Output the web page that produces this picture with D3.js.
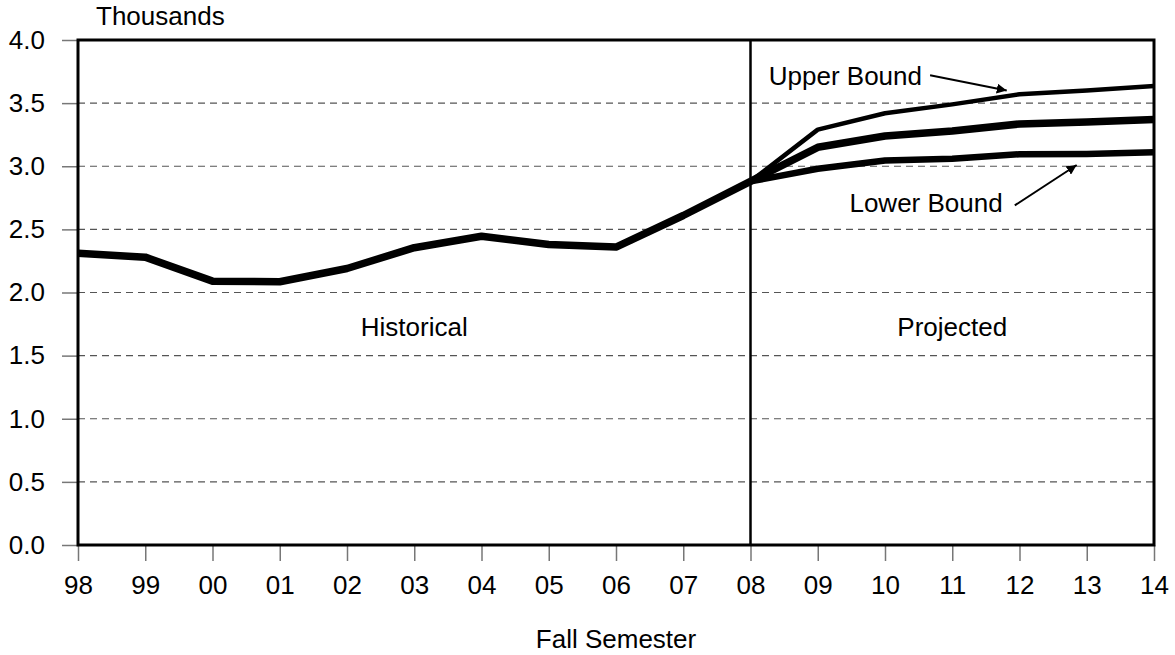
<!DOCTYPE html>
<html>
<head>
<meta charset="utf-8">
<script src="https://d3js.org/d3.v7.min.js"></script>
<style>
  body { margin: 0; background: white; }
  text { font-family: "Liberation Sans", Arial, sans-serif; fill: black; }
</style>
</head>
<body>
<div id="wykres"></div>
<script>

// fall semesters (x axis)
var lata = ["98", "99", "00", "01", "02", "03", "04", "05", "06", "07", "08", "09", "10", "11", "12", "13", "14"];

// historical enrollment, thousands (98 - 08)
var historyczne = [2.31, 2.28, 2.09, 2.085, 2.19, 2.355, 2.445, 2.38, 2.36, 2.61, 2.88];

// projections (08 - 14)
var lataProj = ["08", "09", "10", "11", "12", "13", "14"];
var gorna = [2.88, 3.29, 3.42, 3.49, 3.57, 3.60, 3.635];
var srodek = [2.88, 3.15, 3.24, 3.28, 3.335, 3.35, 3.37];
var dolna = [2.88, 2.98, 3.045, 3.06, 3.095, 3.097, 3.11];

var yTicks = [0, 0.5, 1.0, 1.5, 2.0, 2.5, 3.0, 3.5, 4.0];

var width = 1175, height = 655;
var margin = { top: 40, right: 21, bottom: 110, left: 78 };
var w = width - margin.left - margin.right,
  h = height - margin.top - margin.bottom;

var svg = d3.select("#wykres")
  .append("svg")
  .attr("width", width)
  .attr("height", height)
  .style("background", "white")
  .append("g")
  .attr("transform", "translate(" + margin.left + "," + margin.top + ")");

var xscale = d3.scalePoint()
  .domain(lata)
  .range([0, w]);

// position between categories (fractional index)
var xi = d3.scaleLinear().domain([0, lata.length - 1]).range([0, w]);

var yscale = d3.scaleLinear()
  .domain([0, 4])
  .range([h, 0]);

// gridlines
svg.append("g")
  .selectAll("line")
  .data(yTicks.filter(d => d > 0 && d < 4))
  .enter().append("line")
  .attr("x1", 0)
  .attr("x2", w)
  .attr("y1", d => yscale(d))
  .attr("y2", d => yscale(d))
  .attr("stroke", "#555")
  .attr("stroke-width", 1.2)
  .attr("stroke-dasharray", "7,5");

// y axis
var yAxis = svg.append("g")
  .call(d3.axisLeft(yscale).tickValues(yTicks).tickFormat(d3.format(".1f")).tickSize(16).tickPadding(17));
yAxis.select(".domain").remove();
yAxis.selectAll("line").attr("stroke", "#777").attr("stroke-width", 1.5);
yAxis.selectAll("text").style("font-size", "26px").attr("font-family", null);

// x axis
var xAxis = svg.append("g")
  .attr("transform", "translate(0," + h + ")")
  .call(d3.axisBottom(xscale).tickSize(16).tickPadding(15));
xAxis.select(".domain").remove();
xAxis.selectAll("line").attr("stroke", "#777").attr("stroke-width", 1.5);
xAxis.selectAll("text").style("font-size", "26px").attr("font-family", null);

// frame
svg.append("rect")
  .attr("x", 0)
  .attr("y", 0)
  .attr("width", w)
  .attr("height", h)
  .attr("fill", "none")
  .attr("stroke", "black")
  .attr("stroke-width", 3);

// divider at 08
svg.append("line")
  .attr("x1", xscale("08"))
  .attr("x2", xscale("08"))
  .attr("y1", 0)
  .attr("y2", h)
  .attr("stroke", "black")
  .attr("stroke-width", 2.5);

var linia = function (etykiety) {
  return d3.line()
    .x(function (d, i) { return xscale(etykiety[i]) })
    .y(function (d) { return yscale(d) });
};

svg.append("path")
  .datum(historyczne)
  .attr("fill", "none")
  .attr("stroke", "black")
  .attr("stroke-width", 7.5)
  .attr("stroke-linejoin", "round")
  .attr("d", linia(lata));

svg.append("path")
  .datum(dolna)
  .attr("fill", "none")
  .attr("stroke", "black")
  .attr("stroke-width", 6.5)
  .attr("stroke-linejoin", "round")
  .attr("d", linia(lataProj));

svg.append("path")
  .datum(srodek)
  .attr("fill", "none")
  .attr("stroke", "black")
  .attr("stroke-width", 7.5)
  .attr("stroke-linejoin", "round")
  .attr("d", linia(lataProj));

svg.append("path")
  .datum(gorna)
  .attr("fill", "none")
  .attr("stroke", "black")
  .attr("stroke-width", 4.5)
  .attr("stroke-linejoin", "round")
  .attr("d", linia(lataProj));

// labels
svg.append("text")
  .attr("x", 18)
  .attr("y", -15)
  .style("font-size", "26px")
  .text("Thousands");

svg.append("text")
  .attr("x", w / 2)
  .attr("y", h + 103)
  .attr("text-anchor", "middle")
  .style("font-size", "26px")
  .text("Fall Semester");

svg.append("text")
  .attr("x", (xscale("98") + xscale("08")) / 2)
  .attr("y", yscale(1.655))
  .attr("text-anchor", "middle")
  .style("font-size", "26px")
  .text("Historical");

svg.append("text")
  .attr("x", (xscale("08") + xscale("14")) / 2)
  .attr("y", yscale(1.655))
  .attr("text-anchor", "middle")
  .style("font-size", "26px")
  .text("Projected");

// arrow marker
svg.append("defs").append("marker")
  .attr("id", "grot")
  .attr("viewBox", "0 0 10 10")
  .attr("refX", 10)
  .attr("refY", 5)
  .attr("markerWidth", 5)
  .attr("markerHeight", 5)
  .attr("orient", "auto")
  .append("path")
  .attr("d", "M0,0L10,5L0,10Z")
  .attr("fill", "black");

// annotations: text end, tail and tip, in index / value units
var adnotacje = [
  { tekst: "Upper Bound", tx: 12.55, ty: 3.64, x1: 12.67, y1: 3.72, x2: 13.81, y2: 3.60 },
  { tekst: "Lower Bound", tx: 13.75, ty: 2.64, x1: 13.93, y1: 2.69, x2: 14.85, y2: 3.01 }
];

adnotacje.forEach(function (a) {
  svg.append("text")
    .attr("x", xi(a.tx))
    .attr("y", yscale(a.ty))
    .attr("text-anchor", "end")
    .style("font-size", "26px")
    .text(a.tekst);
  svg.append("line")
    .attr("x1", xi(a.x1))
    .attr("y1", yscale(a.y1))
    .attr("x2", xi(a.x2))
    .attr("y2", yscale(a.y2))
    .attr("stroke", "black")
    .attr("stroke-width", 2)
    .attr("marker-end", "url(#grot)");
});

</script>
</body>
</html>
